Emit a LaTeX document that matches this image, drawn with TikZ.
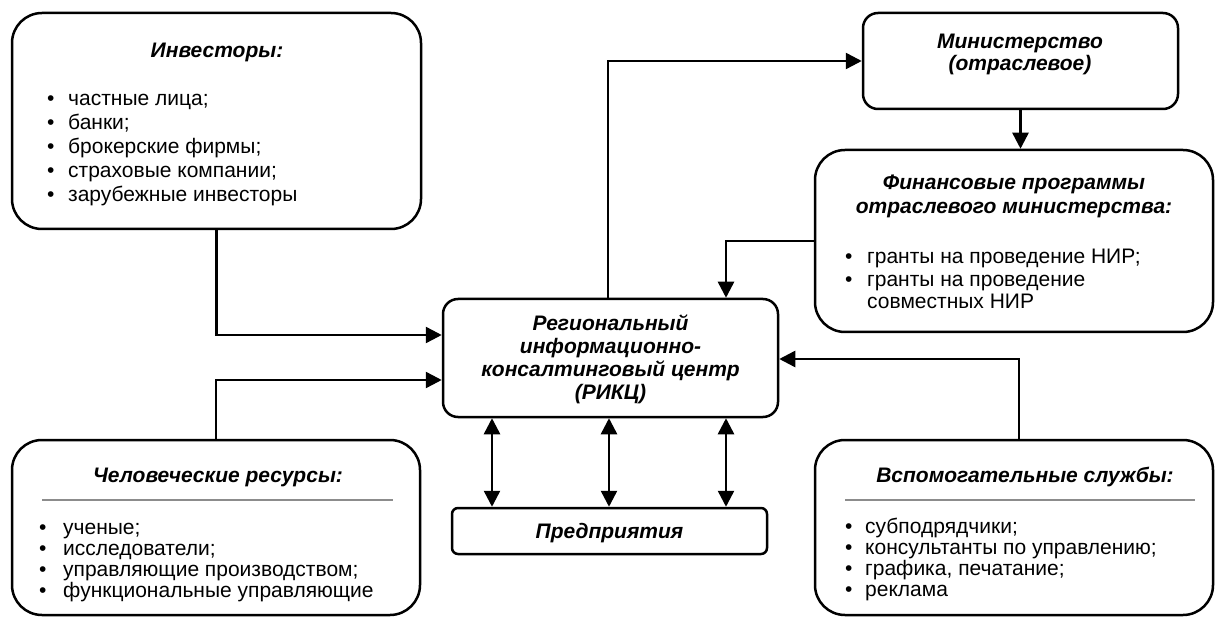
\documentclass[tikz,border=0pt]{standalone}
\usepackage{fontspec}
\setmainfont{Liberation Sans}
\usetikzlibrary{arrows.meta}
\newcommand\bul[1]{\makebox[#1][l]{•}}
\tikzset{
  rbox/.style={draw, line width=2.5pt, rounded corners=#1, inner sep=0pt},
  rbox/.default=30pt,
  arr/.style={line width=2.5pt, -{Triangle[length=16pt,width=16pt]}},
  darr/.style={line width=2.5pt, {Triangle[length=16pt,width=16pt]}-{Triangle[length=16pt,width=16pt]}},
  ttl/.style={font=\fontsize{21}{#1}\selectfont\bfseries\itshape, align=center, inner sep=0pt},
  ttl/.default=23,
  lst/.style={font=\fontsize{21}{#1}\selectfont, align=left, inner sep=0pt, anchor=base west},
  sep/.style={draw=black!45, line width=1.5pt}
}
\begin{document}
\begin{tikzpicture}[x=1pt,y=-1pt]
\useasboundingbox (0,0) rectangle (1216,620);
% boxes
\node[rbox, minimum width=409pt, minimum height=216pt] (inv) at (216.5,121) {};
\node[rbox=15pt, minimum width=315pt, minimum height=96pt] (min) at (1020.5,61) {};
\node[rbox, minimum width=398pt, minimum height=182pt] (fin) at (1014,241) {};
\node[rbox=15pt, minimum width=335pt, minimum height=118pt] (rikc) at (610.5,358) {};
\node[rbox=6pt, minimum width=315pt, minimum height=46pt] (ent) at (609.5,531) {};
\node[rbox, minimum width=408pt, minimum height=175pt] (hum) at (216,527.5) {};
\node[rbox, minimum width=398pt, minimum height=175pt] (aux) at (1014,527.5) {};
% texts
\node[ttl] (invt) at (217,52) {Инвесторы:};
\node[lst=24] (invl) at (47,202) {\bul{21pt}частные лица;\\\bul{21pt}банки;\\\bul{21pt}брокерские фирмы;\\\bul{21pt}страховые компании;\\\bul{21pt}зарубежные инвесторы};
\node[ttl=22] (mint) at (1020,54) {Министерство\\(отраслевое)};
\node[ttl=24] (fint) at (1014,196) {Финансовые программы\\отраслевого министерства:};
\node[lst=22.5] (finl) at (845,309) {\bul{22pt}гранты на проведение НИР;\\\bul{22pt}гранты на проведение\\\hspace*{22pt}совместных НИР};
\node[ttl] (rikct) at (610.5,359) {Региональный\\информационно-\\консалтинговый центр\\(РИКЦ)};
\node[ttl] (entt) at (609.5,533) {Предприятия};
\node[ttl] (humt) at (218,477) {Человеческие ресурсы:};
\draw[sep] (42,500) -- (393,500);
\node[lst=21] (huml) at (39,597) {\bul{24pt}ученые;\\\bul{24pt}исследователи;\\\bul{24pt}управляющие производством;\\\bul{24pt}функциональные управляющие};
\node[ttl] (auxt) at (1025,477) {Вспомогательные службы:};
\draw[sep] (845,500) -- (1195,500);
\node[lst=20.7] (auxl) at (845,596) {\bul{20pt}субподрядчики;\\\bul{20pt}консультанты по управлению;\\\bul{20pt}графика, печатание;\\\bul{20pt}реклама};
% connectors
\draw[arr] (inv.south) |- ([yshift=23pt]rikc.west);
\draw[arr] (hum.north) |- ([yshift=-22pt]rikc.west);
\draw[arr] ([xshift=-2.5pt]rikc.north) |- (min.west);
\draw[arr] (min.south) -- (min.south |- fin.north);
\draw[arr] (fin.west) -| ([xshift=115.5pt]rikc.north);
\draw[arr] ([xshift=5pt]aux.north) |- ([yshift=-1pt]rikc.east);
\draw[darr] ([xshift=-118.5pt]rikc.south) -- ([xshift=-118.5pt]rikc.south |- ent.north);
\draw[darr] ([xshift=-1.5pt]rikc.south) -- ([xshift=-1.5pt]rikc.south |- ent.north);
\draw[darr] ([xshift=115.5pt]rikc.south) -- ([xshift=115.5pt]rikc.south |- ent.north);
\end{tikzpicture}
\end{document}
